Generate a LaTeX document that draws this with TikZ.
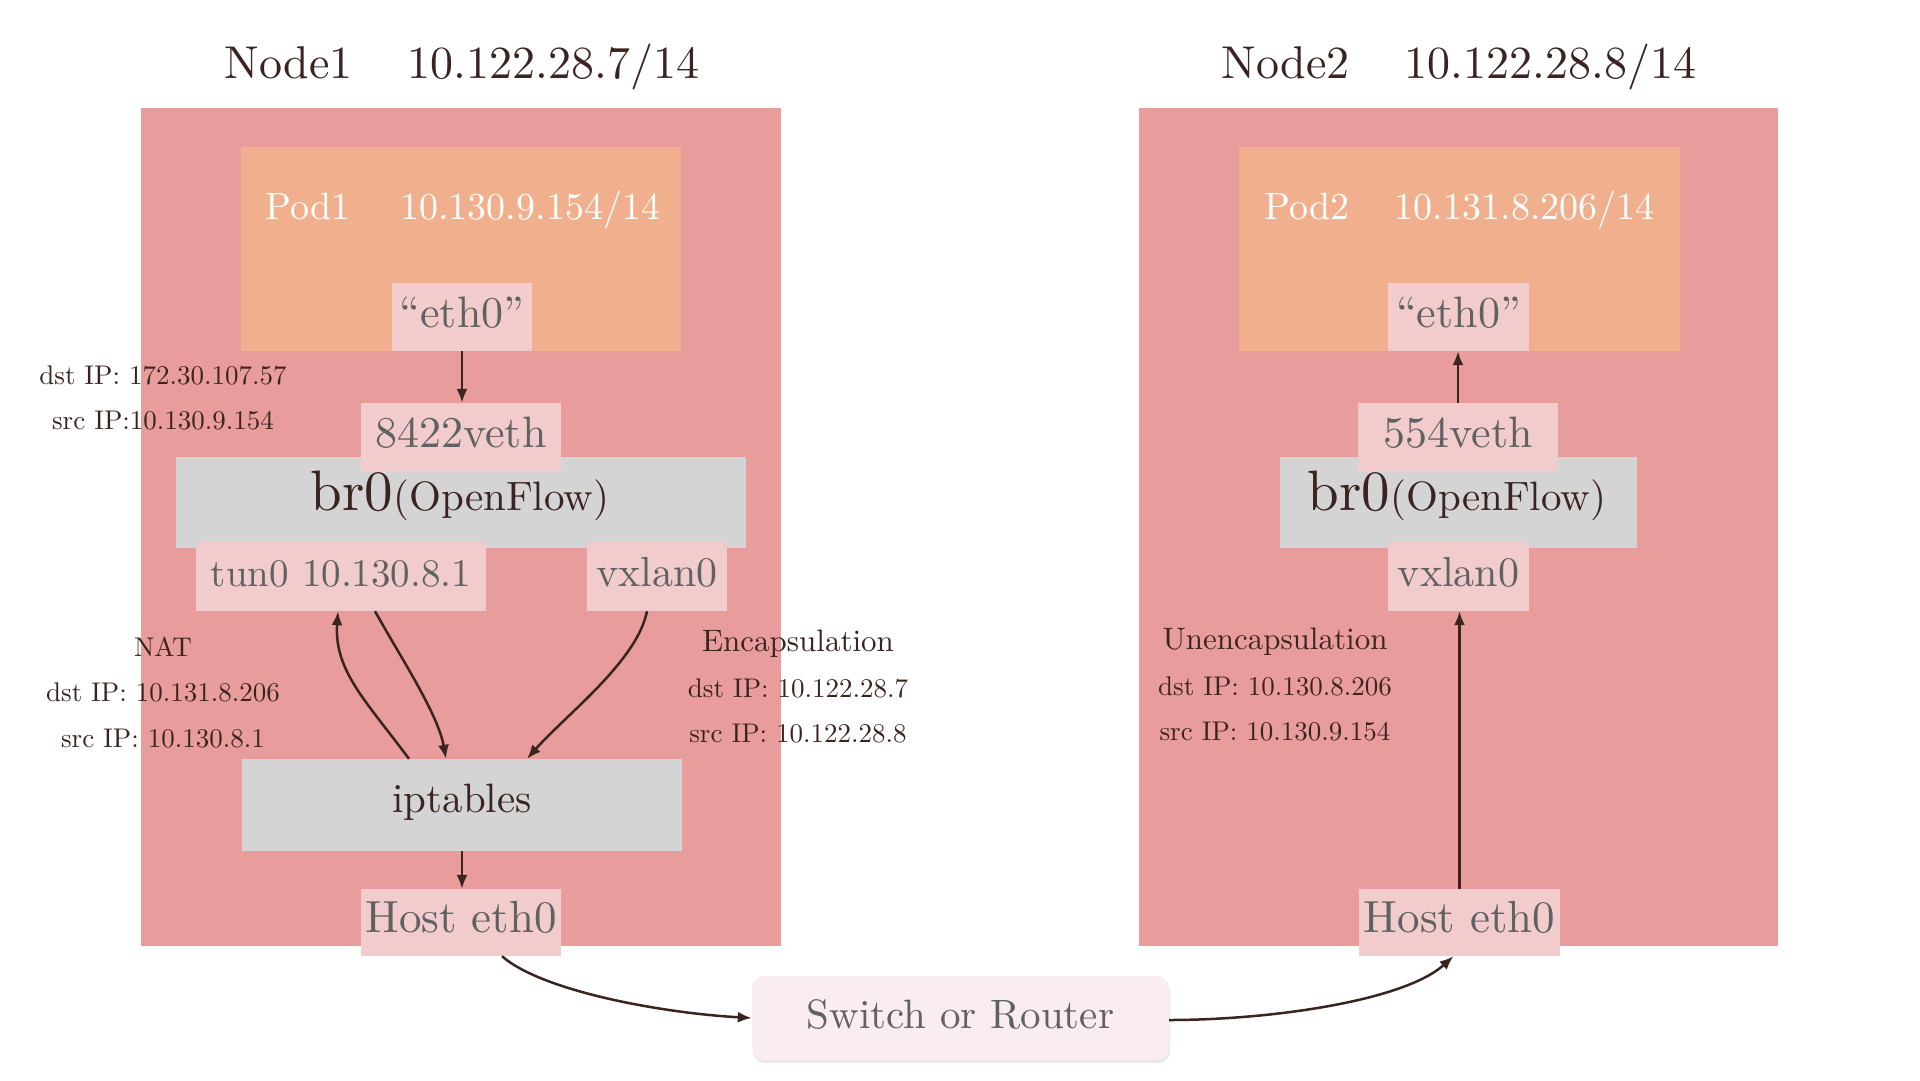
\documentclass[tikz,border=0pt]{standalone}
\usepackage{fontspec}
\setmainfont{lmroman10-regular.otf}
\usetikzlibrary{arrows.meta}
\usetikzlibrary{shadows}
\definecolor{hostred}{HTML}{E89C9C}
\definecolor{podorange}{HTML}{F0B08E}
\definecolor{ifcpink}{HTML}{F2CBCC}
\definecolor{brgray}{HTML}{D4D4D4}
\definecolor{swpink}{HTML}{F9EDF0}
\definecolor{ink}{HTML}{3B2420}
\definecolor{ifctext}{HTML}{5F6162}

\begin{document}
\begin{tikzpicture}[x=1pt,y=-1pt,
  hostbox/.style={fill=hostred, inner sep=0pt},
  podbox/.style={fill=podorange, inner sep=0pt},
  brbox/.style={fill=brgray, inner sep=0pt},
  ifc/.style={fill=ifcpink, text=ifctext, inner sep=0pt, text height=32pt, text depth=12pt,
              font=\fontsize{44}{52}\selectfont},
  nodetitle/.style={text=ink, font=\fontsize{46}{55}\selectfont},
  podtext/.style={text=white, font=\fontsize{38}{46}\selectfont},
  ipnote/.style={text=ink, align=center, font=\fontsize{27}{45.5}\selectfont},
  flowarrow/.style={draw=ink, line width=2.5pt, -{Latex[length=14pt,width=11pt]}}]
 \useasboundingbox (0,0) rectangle (1920,1080);

 \node[hostbox, minimum width=640pt, minimum height=838pt] (node1) at (461,527) {};
 \node[nodetitle] (title1) at (462,67) {Node1\hspace{1.2em}10.122.28.7/14};
 \node[podbox, minimum width=440pt, minimum height=204pt] (pod1) at (461,249) {};
 \node[podtext] (pod1ip) at (463,210) {Pod1\hspace{1.3em}10.130.9.154/14};
 \node[ifc, minimum width=140pt, minimum height=68pt] (eth1) at (462,317) {“eth0”};
 \node[brbox, minimum width=570pt, minimum height=91pt] (br1) at (461,502.5) {};
 \node[ifc, minimum width=200pt, minimum height=68pt] (veth1) at (461,437) {8422veth};
 \node[text=ink, anchor=base] (br1txt) at (460,510)
   {\fontsize{57}{62}\selectfont br0\fontsize{41}{48}\selectfont(OpenFlow)};
 \node[ifc, minimum width=290pt, minimum height=69pt,
       font=\fontsize{39}{47}\selectfont] (tun1) at (341,576.5) {tun0 10.130.8.1};
 \node[ifc, minimum width=140pt, minimum height=69pt,
       font=\fontsize{42}{50}\selectfont] (vx1) at (657,576.5) {vxlan0};
 \node[brbox, text=ink, minimum width=440pt, minimum height=92pt, text height=28pt, text depth=14pt,
       font=\fontsize{41}{49}\selectfont] (ipt1) at (462,805) {iptables};
 \node[ifc, minimum width=200pt, minimum height=67pt,
       font=\fontsize{45}{53}\selectfont] (host1) at (461,922.5) {Host eth0};

 \node[hostbox, minimum width=639pt, minimum height=838pt] (node2) at (1458.5,527) {};
 \node[nodetitle] (title2) at (1459,67) {Node2\hspace{1.2em}10.122.28.8/14};
 \node[podbox, minimum width=441pt, minimum height=204pt] (pod2) at (1459.5,249) {};
 \node[podtext] (pod2ip) at (1459.5,210) {Pod2\hspace{1.2em}10.131.8.206/14};
 \node[ifc, minimum width=141pt, minimum height=68pt] (eth2) at (1458.5,317) {“eth0”};
 \node[brbox, minimum width=357pt, minimum height=91pt] (br2) at (1458.5,502.5) {};
 \node[ifc, minimum width=200pt, minimum height=68pt] (veth2) at (1458,437) {554veth};
 \node[text=ink, anchor=base] (br2txt) at (1457,510)
   {\fontsize{57}{62}\selectfont br0\fontsize{41}{48}\selectfont(OpenFlow)};
 \node[ifc, minimum width=141pt, minimum height=69pt,
       font=\fontsize{42}{50}\selectfont] (vx2) at (1458.5,576.5) {vxlan0};
 \node[ifc, minimum width=201pt, minimum height=67pt,
       font=\fontsize{45}{53}\selectfont] (host2) at (1459.5,922.5) {Host eth0};

 \node[fill=swpink, text=ifctext, rounded corners=12pt, inner sep=0pt,
       minimum width=417pt, minimum height=84pt, text height=32pt, text depth=12pt,
       font=\fontsize{41}{49}\selectfont,
       drop shadow={opacity=0.18, shadow xshift=1pt, shadow yshift=-3pt}]
       (sw) at (960.5,1018) {Switch or Router};

 \node[ipnote] (pkt1) at (163,398) {dst IP: 172.30.107.57\\src IP:10.130.9.154};
 \node[ipnote] (nat1) at (163,692.5) {NAT\\dst IP: 10.131.8.206\\src IP: 10.130.8.1};
 \node[ipnote] (enc1) at (798,687)
   {{\fontsize{31}{45.5}\selectfont Encapsulation}\\dst IP: 10.122.28.7\\src IP: 10.122.28.8};
 \node[ipnote] (dec2) at (1275,685)
   {{\fontsize{31}{45.5}\selectfont Unencapsulation}\\dst IP: 10.130.8.206\\src IP: 10.130.9.154};

 \draw[flowarrow] (eth1.south) -- (eth1.south |- veth1.north);
 \draw[flowarrow] (veth2.north) -- (veth2.north |- eth2.south);
 \draw[flowarrow] (ipt1.south) -- (ipt1.south |- host1.north);
 \draw[flowarrow] (host2.north) -- (host2.north |- vx2.south);
 \draw[flowarrow] ([xshift=-53pt]ipt1.north) .. controls +(-44,-59) and +(-4,59) .. ([xshift=-3pt]tun1.south);
 \draw[flowarrow] ([xshift=34pt]tun1.south) .. controls +(25,45) and +(-8,-45) .. ([xshift=-16pt]ipt1.north);
 \draw[flowarrow] ([xshift=-10pt]vx1.south) .. controls +(-10,50) and +(40,-45) .. ([xshift=65pt]ipt1.north);
 \draw[flowarrow] ([xshift=41pt]host1.south) .. controls +(40,35) and +(-90,-5) .. (sw.west);
 \draw[flowarrow] ([yshift=-2pt]sw.east) .. controls +(100,0) and +(-50,45) .. ([xshift=-6pt]host2.south);
\end{tikzpicture}
\end{document}
